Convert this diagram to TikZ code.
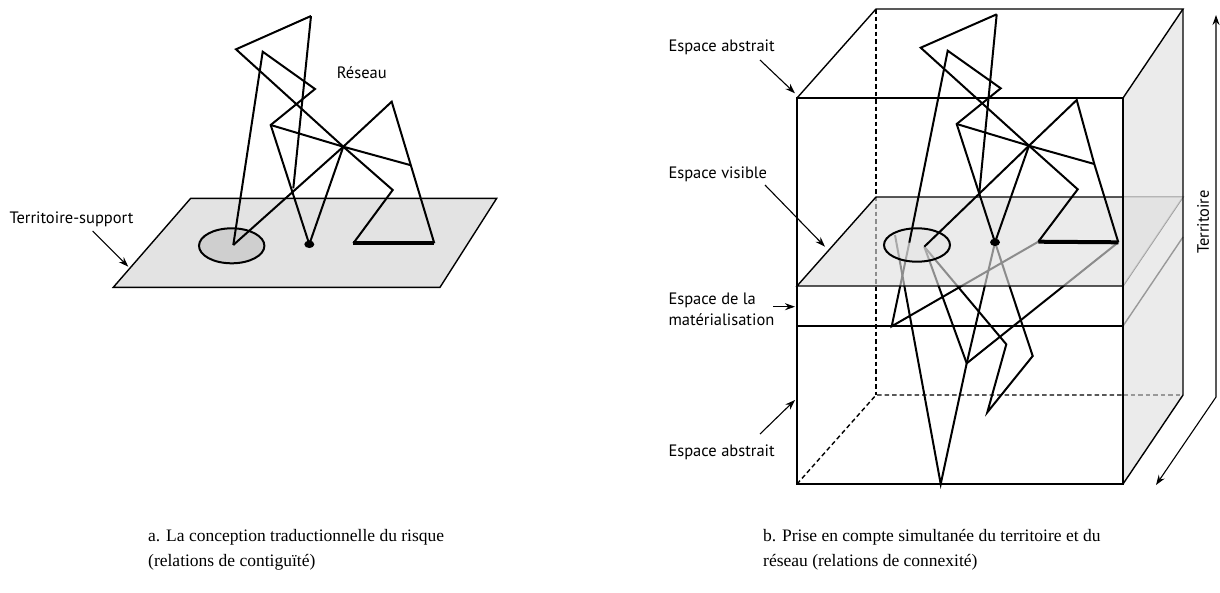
\documentclass[tikz,border=0pt]{standalone}
\usepackage{fontspec}
\setmainfont{Liberation Serif}
\newfontfamily\labelfont{PT Sans}
\usetikzlibrary{arrows.meta,shapes.geometric}
\definecolor{planeA}{gray}{0.89}
\definecolor{ellA}{gray}{0.81}
\definecolor{planefill}{gray}{0.873}
\definecolor{sideface}{gray}{0.92}
\definecolor{hidden}{gray}{0.6}
\tikzset{
  net/.style={line width=2pt},
  boxline/.style={line width=1.4pt},
  hid/.style={line width=1.4pt, dash pattern=on 4.5pt off 3pt},
  thickline/.style={line width=4pt},
  labfont/.style={font=\labelfont\fontsize{16.5}{19}\selectfont},
  lab/.style={labfont, inner sep=0pt, anchor=base west},
  labarrow/.style={line width=1.1pt, -{Stealth[length=10pt,width=7pt]}},
  captext/.style={font=\fontsize{17.5}{21}\selectfont, inner sep=0pt, anchor=base west},
  dotnode/.style={ellipse, fill=black, minimum width=10pt, minimum height=7.5pt, inner sep=0pt},
}
\begin{document}
\begin{tikzpicture}[x=1pt,y=-1pt]
\useasboundingbox (0,0) rectangle (1220,592);

% ================= Panel a =================
\coordinate (aP1) at (113.3,287.3);
\coordinate (aP2) at (190.7,198.3);
\coordinate (aP3) at (496.7,198.3);
\coordinate (aP4) at (440,287.3);
\filldraw[boxline, fill=planeA] (aP1) -- (aP2) -- (aP3) -- (aP4) -- cycle;
\node[ellipse, draw, net, fill=ellA, minimum width=65.4pt, minimum height=35pt, inner sep=0pt] (aEll) at (231.7,245.8) {};

\coordinate (aA) at (236,49.3);
\coordinate (aB) at (311,16);
\coordinate (aC) at (262.7,51.7);
\coordinate (aD) at (315,89);
\coordinate (aE) at (270.7,125);
\coordinate (aF) at (343.3,146.7);
\coordinate (aG) at (391.7,101.7);
\coordinate (aH) at (410,165);
\coordinate (aI) at (392.7,190);
\coordinate (aPP) at (293.3,188.3);
\coordinate (aEo) at (233.3,245);
\coordinate (aL) at (353.3,243.3);
\coordinate (aR) at (434.3,243.3);
\node[dotnode] (aDot) at (309.3,244.3) {};

\draw[net] (aEo) -- (aC) -- (aD) -- (aE) -- (aDot.center) -- (aF) -- (aG) -- (aR);
\draw[net] (aB) -- (aA) -- (aF) -- (aI) -- (aL);
\draw[net] (aE) -- (aF) -- (aH);
\draw[net] (aF) -- (aEo);
\draw[net] (aB) -- (aPP);
\draw[thickline] (aL) -- (aR);

\node[lab] (aReseau) at (336.7,78.3) {Réseau};
\node[lab] (aTerr) at (9.3,223) {Territoire-support};
\coordinate (aTs) at (92.7,231);
\coordinate (aTe) at (128.3,266.7);
\draw[labarrow] (aTs) -- (aTe);

% ================= Panel b =================
\coordinate (bF1) at (797,98);
\coordinate (bF2) at (1123,98);
\coordinate (bF3) at (1123,484);
\coordinate (bF4) at (797,484);
\coordinate (bK1) at (876,9);
\coordinate (bK2) at (1183,9);
\coordinate (bK3) at (1183,395);
\coordinate (bK4) at (876,395);
\coordinate (bK5) at (1123,395);
\coordinate (bV1) at (797,286);
\coordinate (bV2) at (1123,286);
\coordinate (bV3) at (1183,197);
\coordinate (bV4) at (876,197);
\coordinate (bV5) at (1123,197);
\coordinate (bM1) at (797,326);
\coordinate (bM2) at (1123,326);
\coordinate (bM3) at (1183,237);

% side face
\fill[sideface] (bF2) -- (bK2) -- (bK3) -- (bF3) -- cycle;
% lines seen through the side face
\draw[boxline, hidden] (bV5) -- (bV3) -- (bV2);
\draw[boxline, hidden] (bM2) -- (bM3);
\draw[hid, hidden] (bK5) -- (bK3);
% hidden back edges
\draw[hid] (bK1) -- (bK4);
\draw[hid] (bF4) -- (bK4) -- (bK5);

% network below the plane
\coordinate (bCe) at (909.3,242.7);
\coordinate (bEo) at (924.3,246.7);
\coordinate (bS) at (895,235);
\coordinate (bMv) at (891.7,326.3);
\coordinate (bAp) at (940.7,484);
\coordinate (bW1) at (966.7,363.3);
\coordinate (bW2) at (1006.3,344.3);
\coordinate (bW3) at (1032.7,356);
\coordinate (bW4) at (987.3,412.3);
\coordinate (bL) at (1038.3,241.7);
\coordinate (bR) at (1118.3,242.3);
\coordinate (bDc) at (995,242.3);

\draw[net] (bCe) -- (bMv) -- (bL);
\draw[net] (bS) -- (bAp) -- (bW1) -- (bDc);
\draw[net] (bEo) -- (bW1) -- (bR);
\draw[net] (bEo) -- (bW2) -- (bW4) -- (bW3) -- (bDc);

% materialisation line
\draw[boxline] (bM1) -- (bM2);

% visible plane (semi-transparent)
\fill[planefill, fill opacity=0.63] (bV1) -- (bV2) -- (bV3) -- (bV4) -- cycle;
\draw[boxline] (bV2) -- (bV1) -- (bV4) -- (bV5);
\node[ellipse, draw, net, fill=planefill, fill opacity=0.35, draw opacity=1, minimum width=66pt, minimum height=33.4pt, inner sep=0pt] (bEll) at (917,245) {};
\node[dotnode] (bDot) at (995,242.3) {};

% network above the plane
\coordinate (bA) at (920.7,47.7);
\coordinate (bB) at (996.7,14.3);
\coordinate (bC) at (947.7,50.7);
\coordinate (bD) at (1000.7,88.3);
\coordinate (bE) at (956.7,124);
\coordinate (bF) at (1029,145.7);
\coordinate (bG) at (1076.7,100);
\coordinate (bH) at (1094.3,164);
\coordinate (bI) at (1077.7,189.3);
\coordinate (bPP) at (979.3,192.7);

\draw[net] (bCe) -- (bC) -- (bD) -- (bE) -- (bDot.center) -- (bF) -- (bG) -- (bH) -- (bR);
\draw[net] (bB) -- (bA) -- (bF) -- (bI) -- (bL);
\draw[net] (bE) -- (bF) -- (bH);
\draw[net] (bF) -- (bEo);
\draw[net] (bB) -- (bPP);
\draw[thickline] (bL) -- (bR);

% box outline
\draw[boxline] (bF1) rectangle (bF3);
\draw[boxline] (bF1) -- (bK1) -- (bK2) -- (bF2);
\draw[boxline] (bK2) -- (bK3) -- (bF3);

% Territoire arrow
\coordinate (bT1) at (1156,485);
\coordinate (bT2) at (1216,397);
\coordinate (bT3) at (1216,15);
\draw[line width=1.1pt, {Stealth[length=10pt,width=7pt]}-{Stealth[length=10pt,width=7pt]}] (bT1) -- (bT2) -- (bT3);
\node[labfont, rotate=90, inner sep=0pt] (bTerr) at (1203,222) {Territoire};

% labels panel b
\node[lab] (bLab1) at (668.3,51.5) {Espace abstrait};
\coordinate (bLab1s) at (760,60);
\coordinate (bLab1e) at (795,93.3);
\draw[labarrow] (bLab1s) -- (bLab1e);

\node[lab] (bLab2) at (668.3,178) {Espace visible};
\coordinate (bLab2s) at (765,185);
\coordinate (bLab2e) at (825,246.7);
\draw[labarrow] (bLab2s) -- (bLab2e);

\node[lab] (bLab3a) at (668.3,304.5) {Espace de la};
\node[lab] (bLab3b) at (668.3,325) {matérialisation};
\coordinate (bLab3s) at (773.3,306.7);
\coordinate (bLab3e) at (795,306.7);
\draw[labarrow] (bLab3s) -- (bLab3e);

\node[lab] (bLab4) at (668.3,456.5) {Espace abstrait};
\coordinate (bLab4s) at (760,434);
\coordinate (bLab4e) at (795,400);
\draw[labarrow] (bLab4s) -- (bLab4e);

% captions
\node[captext] (capA1) at (148,541) {a. La conception traductionnelle du risque};
\node[captext] (capA2) at (148,566) {(relations de contiguïté)};
\node[captext] (capB1) at (763,541) {b. Prise en compte simultanée du territoire et du};
\node[captext] (capB2) at (763,566) {réseau (relations de connexité)};
\end{tikzpicture}
\end{document}
